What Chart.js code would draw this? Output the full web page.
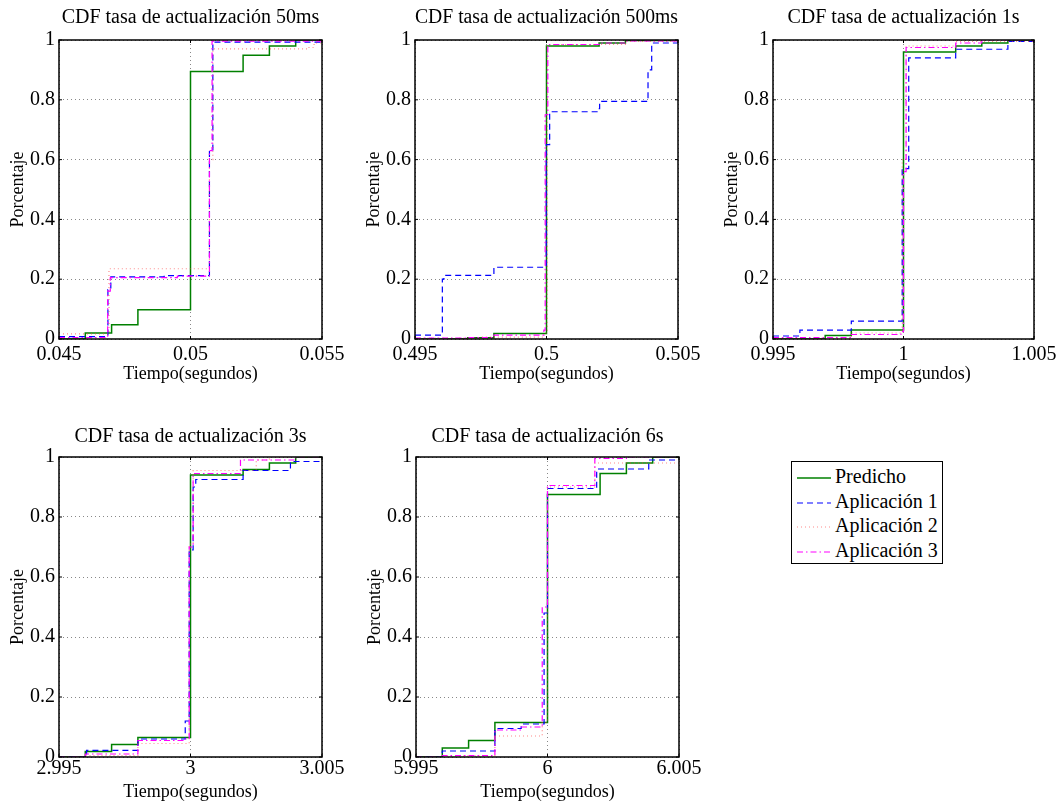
<!DOCTYPE html>
<html>
<head>
<meta charset="utf-8">
<script src="https://cdn.jsdelivr.net/npm/chart.js@4.4.1/dist/chart.umd.min.js"></script>
<style>
body { margin: 0; background: #fff; width: 1060px; height: 802px; overflow: hidden; position: relative; }
canvas { position: absolute; }
#leyenda { position: absolute; left: 791px; top: 461px; width: 150px; height: 101px; border: 1.5px solid #000; background: #fff; font-family: 'Liberation Serif', serif; font-size: 20px; }
.fila { position: absolute; left: 5px; height: 24px; line-height: 24px; white-space: nowrap; }
.fila svg { vertical-align: middle; margin-right: 4px; }
</style>
</head>
<body>
<canvas id="c50"></canvas>
<canvas id="c500"></canvas>
<canvas id="c1"></canvas>
<canvas id="c3"></canvas>
<canvas id="c6"></canvas>
<div id="leyenda"></div>
<script>
// series names and y ticks, shared by every panel
const nombres = ['Predicho', 'Aplicación 1', 'Aplicación 2', 'Aplicación 3']
const yTicks = [0, 0.2, 0.4, 0.6, 0.8, 1]

// x ticks of each panel
const ticks50 = [0.045, 0.05, 0.055]
const ticks500 = [0.495, 0.5, 0.505]
const ticks1 = [0.995, 1, 1.005]
const ticks3 = [2.995, 3, 3.005]
const ticks6 = [5.995, 6, 6.005]

// CDF steps [x, y] (each y is the level from that x on)
const pred50 = [[0.045, 0], [0.046, 0.02], [0.047, 0.048], [0.048, 0.098], [0.050, 0.895], [0.052, 0.949], [0.053, 0.98], [0.054, 1], [0.055, 1]]
const apl1_50 = [[0.045, 0.008], [0.04686, 0.165], [0.04697, 0.208], [0.049, 0.212], [0.05072, 0.63], [0.05085, 0.993], [0.055, 0.995]]
const apl2_50 = [[0.045, 0.017], [0.0469, 0.235], [0.05072, 0.6], [0.05085, 0.97], [0.0545, 0.975], [0.0547, 0.99], [0.055, 1]]
const apl3_50 = [[0.045, 0.005], [0.04685, 0.16], [0.04695, 0.205], [0.0495, 0.21], [0.05072, 0.63], [0.05082, 0.996], [0.055, 1]]

const pred500 = [[0.495, 0], [0.497, 0.004], [0.498, 0.018], [0.5, 0.98], [0.502, 0.99], [0.503, 0.998], [0.505, 1]]
const apl1_500 = [[0.495, 0.013], [0.49604, 0.2], [0.4961, 0.213], [0.498, 0.24], [0.49999, 0.65], [0.50012, 0.76], [0.50195, 0.77], [0.50202, 0.795], [0.50386, 0.9], [0.504, 0.99], [0.505, 0.99]]
const apl2_500 = [[0.495, 0.002], [0.4975, 0.006], [0.4999, 0.02], [0.50003, 0.985], [0.503, 0.995], [0.505, 1]]
const apl3_500 = [[0.495, 0.003], [0.497, 0.005], [0.498, 0.013], [0.4999, 0.03], [0.49995, 0.75], [0.50005, 0.985], [0.502, 0.99], [0.503, 0.997], [0.505, 1]]

const pred1 = [[0.995, 0], [0.997, 0.012], [0.998, 0.03], [1.0, 0.96], [1.002, 0.98], [1.003, 0.99], [1.004, 1], [1.005, 1]]
const apl1_1 = [[0.995, 0.01], [0.99603, 0.03], [0.998, 0.06], [0.99995, 0.57], [1.0002, 0.94], [1.002, 0.969], [1.004, 0.995], [1.005, 0.995]]
const apl2_1 = [[0.995, 0.002], [0.998, 0.02], [0.99995, 0.6], [1.0001, 0.98], [1.002, 0.995], [1.005, 1]]
const apl3_1 = [[0.995, 0.005], [0.998, 0.015], [0.9999, 0.025], [1.0, 0.56], [1.0001, 0.975], [1.002, 0.99], [1.003, 1], [1.005, 1]]

const pred3 = [[2.995, 0], [2.996, 0.018], [2.997, 0.042], [2.998, 0.065], [3.0, 0.94], [3.002, 0.958], [3.003, 0.98], [3.004, 1], [3.005, 1]]
const apl1_3 = [[2.995, 0], [2.99605, 0.022], [2.998, 0.06], [2.9998, 0.12], [2.99995, 0.69], [3.0001, 0.9], [3.0002, 0.925], [3.002, 0.955], [3.0038, 0.985], [3.005, 0.985]]
const apl2_3 = [[2.995, 0], [2.996, 0.005], [2.998, 0.045], [2.99995, 0.71], [3.0001, 0.955], [3.0025, 0.99], [3.003, 1], [3.005, 1]]
const apl3_3 = [[2.995, 0], [2.996, 0.01], [2.998, 0.055], [2.9998, 0.06], [2.99995, 0.7], [3.0001, 0.945], [3.0019, 0.99], [3.004, 1], [3.005, 1]]

const pred6 = [[5.995, 0], [5.996, 0.03], [5.997, 0.055], [5.998, 0.115], [6.0, 0.875], [6.002, 0.945], [6.003, 0.98], [6.004, 1], [6.005, 1]]
const apl1_6 = [[5.995, 0], [5.996, 0.02], [5.998, 0.095], [5.999, 0.11], [5.99987, 0.48], [6.0, 0.895], [6.00187, 0.96], [6.00385, 0.99], [6.005, 0.99]]
const apl2_6 = [[5.995, 0], [5.996, 0.003], [5.998, 0.07], [5.9998, 0.115], [6.0, 0.9], [6.0018, 0.98], [6.005, 0.98]]
const apl3_6 = [[5.995, 0], [5.996, 0.005], [5.998, 0.09], [5.999, 0.1], [5.9998, 0.5], [6.0, 0.905], [6.0018, 0.995], [6.003, 1], [6.005, 1]]

const FUENTE = "'Liberation Serif', 'Times New Roman', serif"

// line look of each series: green solid, blue dashed, red dotted, magenta dash-dot
const estilos = [
    {color: '#008000', width: 1.5, dash: []},
    {color: '#0000ff', width: 1.2, dash: [6, 4]},
    {color: 'rgba(255,60,60,0.6)', width: 1.2, dash: [1, 3]},
    {color: '#ff00ff', width: 1.2, dash: [6, 3, 1.5, 3]}
]

// plot area of every panel in page pixels: left, top, right, bottom
const paneles = [
    {id: 'c50', titulo: 'CDF tasa de actualización 50ms', xTicks: ticks50, series: [pred50, apl1_50, apl2_50, apl3_50], area: [59, 40, 322, 339], tArriba: 6, tickPad: 4},
    {id: 'c500', titulo: 'CDF tasa de actualización 500ms', xTicks: ticks500, series: [pred500, apl1_500, apl2_500, apl3_500], area: [415, 40, 678, 339], tArriba: 6, tickPad: 4},
    {id: 'c1', titulo: 'CDF tasa de actualización 1s', xTicks: ticks1, series: [pred1, apl1_1, apl2_1, apl3_1], area: [773, 40, 1034, 339], tArriba: 6, tickPad: 4},
    {id: 'c3', titulo: 'CDF tasa de actualización 3s', xTicks: ticks3, series: [pred3, apl1_3, apl2_3, apl3_3], area: [59, 457, 322, 757], tArriba: 8, tickPad: 0},
    {id: 'c6', titulo: 'CDF tasa de actualización 6s', xTicks: ticks6, series: [pred6, apl1_6, apl2_6, apl3_6], area: [416, 457, 679, 757], tArriba: 8, tickPad: 0}
]

// black box round the plot area with short inward tick marks, like the original axes
const marco = {
    id: 'marco',
    afterDatasetsDraw(chart)
    {
        const {ctx, chartArea: a, scales} = chart
        ctx.save()
        ctx.strokeStyle = '#000'
        ctx.lineWidth = 1.5
        ctx.strokeRect(a.left, a.top, a.right - a.left, a.bottom - a.top)
        ctx.lineWidth = 1
        ctx.beginPath()
        for (const t of scales.x.ticks)
        {
            const px = scales.x.getPixelForValue(t.value)
            ctx.moveTo(px, a.bottom); ctx.lineTo(px, a.bottom - 3)
            ctx.moveTo(px, a.top); ctx.lineTo(px, a.top + 3)
        }
        for (const t of scales.y.ticks)
        {
            const py = scales.y.getPixelForValue(t.value)
            ctx.moveTo(a.left, py); ctx.lineTo(a.left + 3, py)
            ctx.moveTo(a.right, py); ctx.lineTo(a.right - 3, py)
        }
        ctx.stroke()
        ctx.restore()
    }
}

for (const p of paneles)
{
    const cv = document.getElementById(p.id)
    const left = p.area[0] - 59
    const top = p.area[1] - 40
    cv.width = p.area[2] - left + 26
    cv.height = p.area[3] - top + 46
    cv.style.left = left + 'px'
    cv.style.top = top + 'px'

    const datasets = p.series.map((s, i) => ({
        label: nombres[i],
        data: s.map(e => ({x: e[0], y: e[1]})),
        borderColor: estilos[i].color,
        borderWidth: estilos[i].width,
        borderDash: estilos[i].dash,
        pointRadius: 0,
        stepped: true,
        fill: false,
        order: 3 - i
    }))

    new Chart(cv, {
        type: 'line',
        data: {datasets: datasets},
        plugins: [marco],
        options: {
            responsive: false,
            animation: false,
            devicePixelRatio: 1,
            layout: {padding: {left: 0, right: 26, top: 0, bottom: 0}},
            plugins: {
                legend: {display: false},
                tooltip: {enabled: false},
                title: {
                    display: true,
                    fullSize: false,
                    text: p.titulo,
                    color: '#000',
                    font: {family: FUENTE, size: 20, weight: 'normal'},
                    padding: {top: p.tArriba, bottom: 40 - 24 - p.tArriba}
                }
            },
            scales: {
                x: {
                    type: 'linear',
                    min: p.xTicks[0],
                    max: p.xTicks[p.xTicks.length - 1],
                    afterBuildTicks: s => { s.ticks = p.xTicks.map(v => ({value: v})) },
                    afterFit: s => { s.height = 46; s.paddingLeft = 0; s.paddingRight = 0 },
                    ticks: {color: '#000', font: {family: FUENTE, size: 20}, padding: p.tickPad, maxRotation: 0, autoSkip: false, callback: v => String(v)},
                    grid: {color: '#888', lineWidth: 1, drawTicks: false},
                    border: {display: false, dash: [1, 3]},
                    title: {display: true, text: 'Tiempo(segundos)', color: '#000', font: {family: FUENTE, size: 18}, padding: {top: 0, bottom: 0}}
                },
                y: {
                    min: 0,
                    max: 1,
                    afterBuildTicks: s => { s.ticks = yTicks.map(v => ({value: v})) },
                    afterFit: s => { s.width = 59 },
                    ticks: {color: '#000', font: {family: FUENTE, size: 20}, padding: 4, callback: v => String(v)},
                    grid: {color: '#888', lineWidth: 1, drawTicks: false},
                    border: {display: false, dash: [1, 3]},
                    title: {display: true, text: 'Porcentaje', color: '#000', font: {family: FUENTE, size: 18}, padding: {top: 7, bottom: 0}}
                }
            }
        }
    })
}

// legend box, built from the series names
const ley = document.getElementById('leyenda')
nombres.forEach((n, i) => {
    const fila = document.createElement('div')
    fila.className = 'fila'
    fila.style.top = (2 + i * 24.5) + 'px'
    const e = estilos[i]
    fila.innerHTML = '<svg width="34" height="6"><line x1="0" y1="3" x2="34" y2="3" stroke="' + e.color +
        '" stroke-width="' + e.width + '" stroke-dasharray="' + (e.dash.length ? e.dash.join(' ') : 'none') + '"/></svg>' +
        '<span>' + n + '</span>'
    ley.appendChild(fila)
})
</script>
</body>
</html>
